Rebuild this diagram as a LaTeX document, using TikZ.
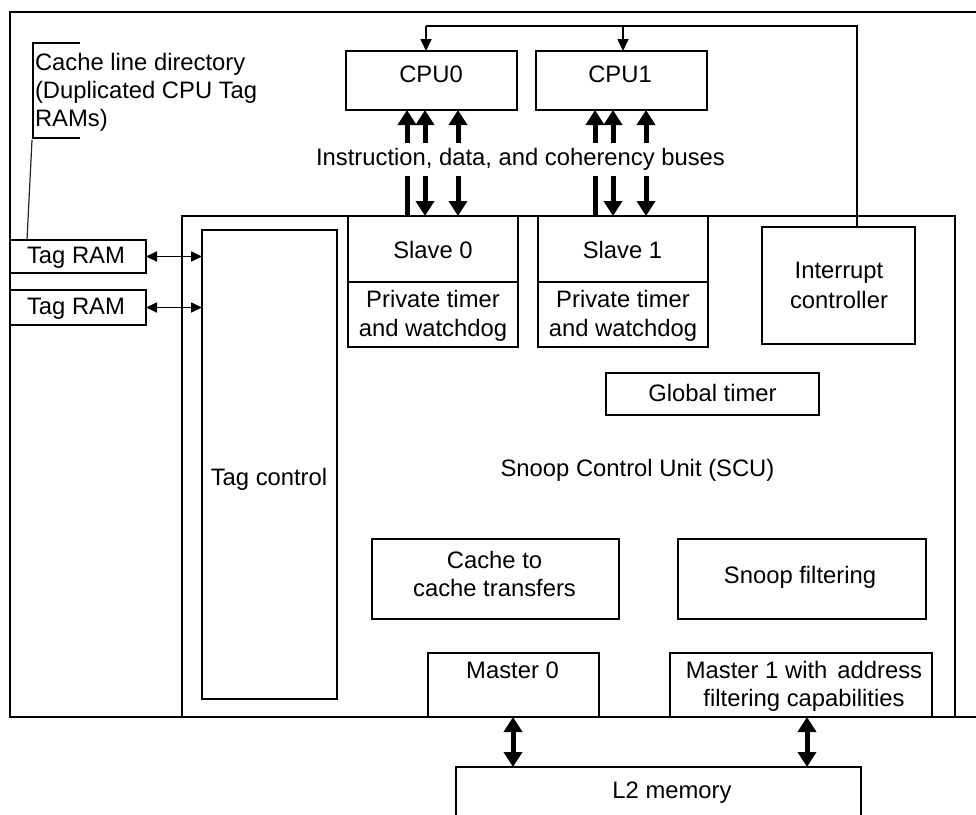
\documentclass[tikz,border=0pt]{standalone}
\usepackage{fontspec}
\setmainfont{Liberation Sans}
\usetikzlibrary{arrows.meta}
\begin{document}
\begin{tikzpicture}[x=1pt,y=-1pt,
  box/.style={draw=black, line width=1.7pt, rectangle, inner sep=0pt, outer sep=0pt},
  lbl/.style={inner sep=0pt, outer sep=0pt, anchor=base, font=\fontsize{23.8}{28}\selectfont},
  lblw/.style={lbl, anchor=base west},
  conn/.style={draw=black, line width=1.7pt},
  smalltip/.style={-{Triangle[length=12pt,width=11pt]}},
  smalltwo/.style={{Triangle[length=11pt,width=10pt]}-{Triangle[length=11pt,width=10pt]}},
  bus/.style={draw=black, line width=5pt},
  bustip/.style={-{Triangle[length=15pt,width=18pt]}},
  bustwo/.style={{Triangle[length=15pt,width=18pt]}-{Triangle[length=15pt,width=18pt]}}
]
\useasboundingbox (0,0) rectangle (976,814);
\clip (0,0) rectangle (976,814);

% outer frame (open on the right)
\draw[conn] (990,12) -- (10,12) -- (10,717) -- (990,717);

% SCU box
\node[box, minimum width=773pt, minimum height=501pt] (scu) at (568.5,466.5) {};

% Tag RAMs and tag control
\node[box, fill=white, minimum width=136pt, minimum height=33pt] (tagram1) at (78,256.5) {};
\node[box, fill=white, minimum width=136pt, minimum height=35pt] (tagram2) at (78,307.5) {};
\node[box, minimum width=135pt, minimum height=469pt] (tagctrl) at (269.5,464.5) {};

% CPUs
\node[box, minimum width=171pt, minimum height=59pt] (cpu0) at (431.5,80.5) {};
\node[box, minimum width=171pt, minimum height=59pt] (cpu1) at (621.5,80.5) {};

% Slaves and private timers
\node[box, minimum width=170pt, minimum height=66pt] (slave0) at (433,249) {};
\node[box, minimum width=170pt, minimum height=65pt] (timer0) at (433,314.5) {};
\node[box, minimum width=170pt, minimum height=66pt] (slave1) at (623,249) {};
\node[box, minimum width=170pt, minimum height=65pt] (timer1) at (623,314.5) {};

% Interrupt controller, global timer
\node[box, minimum width=153pt, minimum height=117pt] (intc) at (838.5,285.5) {};
\node[box, minimum width=213pt, minimum height=42pt] (gtimer) at (712.5,394) {};

% Cache to cache, snoop filtering
\node[box, minimum width=247pt, minimum height=80pt] (c2c) at (495.5,579) {};
\node[box, minimum width=248pt, minimum height=80pt] (snoopf) at (802,579) {};

% Masters
\node[box, minimum width=171pt, minimum height=64pt] (master0) at (513.5,685) {};
\node[box, minimum width=262pt, minimum height=64pt] (master1) at (801,685) {};

% L2 memory
\node[box, minimum width=405pt, minimum height=63pt] (l2) at (658.5,798.5) {};

% callout bracket
\coordinate (brA) at (80,43);
\coordinate (brB) at (33,43);
\coordinate (brC) at (33,138);
\coordinate (brD) at (80,138);
\draw[conn] (brA) -- (brB) -- (brC) -- (brD);
\coordinate (clS) at (32,140);
\coordinate (clE) at (27,240);
\draw[draw=black!85, line width=1.2pt] (clS) -- (clE);

% texts
\node[lblw] (t1) at (35,70) {Cache line directory};
\node[lblw] (t2) at (35,98) {(Duplicated CPU Tag};
\node[lblw] (t3) at (35,126) {RAMs)};
\node[lbl] (ttr1) at (76,263) {Tag RAM};
\node[lbl] (ttr2) at (76,314) {Tag RAM};
\node[lbl] (tcpu0) at (431,82.5) {CPU0};
\node[lbl] (tcpu1) at (620,82.5) {CPU1};
\node[lbl] (tbus) at (520.5,165) {Instruction, data, and coherency buses};
\node[lbl] (ts0) at (433,258) {Slave 0};
\node[lbl] (ts1) at (622.5,258) {Slave 1};
\node[lbl] (tp0a) at (433,307) {Private timer};
\node[lbl] (tp0b) at (433,336) {and watchdog};
\node[lbl] (tp1a) at (623,307) {Private timer};
\node[lbl] (tp1b) at (623,336) {and watchdog};
\node[lbl] (tic1) at (839,278) {Interrupt};
\node[lbl] (tic2) at (839,308) {controller};
\node[lbl] (tgt) at (712.5,401) {Global timer};
\node[lbl] (tscu) at (637.5,476.5) {Snoop Control Unit (SCU)};
\node[lbl] (ttc) at (269,485) {Tag control};
\node[lbl] (tc2ca) at (494.5,568) {Cache to};
\node[lbl] (tc2cb) at (494.5,596) {cache transfers};
\node[lbl] (tsf) at (800,583) {Snoop filtering};
\node[lbl] (tm0) at (512.5,678) {Master 0};
\node[lbl] (tm1a) at (804,678) {Master 1 with\hspace{0.42em}address};
\node[lbl] (tm1b) at (804,706) {filtering capabilities};
\node[lbl] (tl2) at (672,798) {L2 memory};

% Tag RAM <-> Tag control
\draw[conn, smalltwo] (tagram1.east) -- (tagram1.east -| tagctrl.west);
\draw[conn, smalltwo] (tagram2.east) -- (tagram2.east -| tagctrl.west);

% interrupt feedback to CPUs
\coordinate (icTop) at (857,227);
\coordinate (fbR) at (857,26);
\coordinate (fbL) at (426,26);
\coordinate (fb1) at (623,26);
\draw[conn] (icTop) -- (fbR) -- (fbL);
\draw[conn, smalltip] (fbL) -- (fbL |- cpu0.north);
\draw[conn, smalltip] (fb1) -- (fb1 |- cpu1.north);

% buses CPU0
\coordinate (u0a) at (407,143);
\coordinate (u0b) at (425,143);
\coordinate (u0c) at (458,143);
\coordinate (d0a) at (407,176);
\coordinate (d0b) at (425,176);
\coordinate (d0c) at (458,176);
\draw[bus, bustip] (u0a) -- (u0a |- cpu0.south);
\draw[bus, bustip] (u0b) -- (u0b |- cpu0.south);
\draw[bus, bustip] (u0c) -- (u0c |- cpu0.south);
\draw[bus] (d0a) -- (d0a |- slave0.north);
\draw[bus, bustip] (d0b) -- (d0b |- slave0.north);
\draw[bus, bustip] (d0c) -- (d0c |- slave0.north);

% buses CPU1
\coordinate (u1a) at (595,143);
\coordinate (u1b) at (613,143);
\coordinate (u1c) at (646,143);
\coordinate (d1a) at (595,176);
\coordinate (d1b) at (613,176);
\coordinate (d1c) at (646,176);
\draw[bus, bustip] (u1a) -- (u1a |- cpu1.south);
\draw[bus, bustip] (u1b) -- (u1b |- cpu1.south);
\draw[bus, bustip] (u1c) -- (u1c |- cpu1.south);
\draw[bus] (d1a) -- (d1a |- slave1.north);
\draw[bus, bustip] (d1b) -- (d1b |- slave1.north);
\draw[bus, bustip] (d1c) -- (d1c |- slave1.north);

% masters <-> L2
\coordinate (m0x) at (513,717);
\coordinate (m1x) at (807,717);
\draw[bus, bustwo] (m0x) -- (m0x |- l2.north);
\draw[bus, bustwo] (m1x) -- (m1x |- l2.north);
\end{tikzpicture}
\end{document}
